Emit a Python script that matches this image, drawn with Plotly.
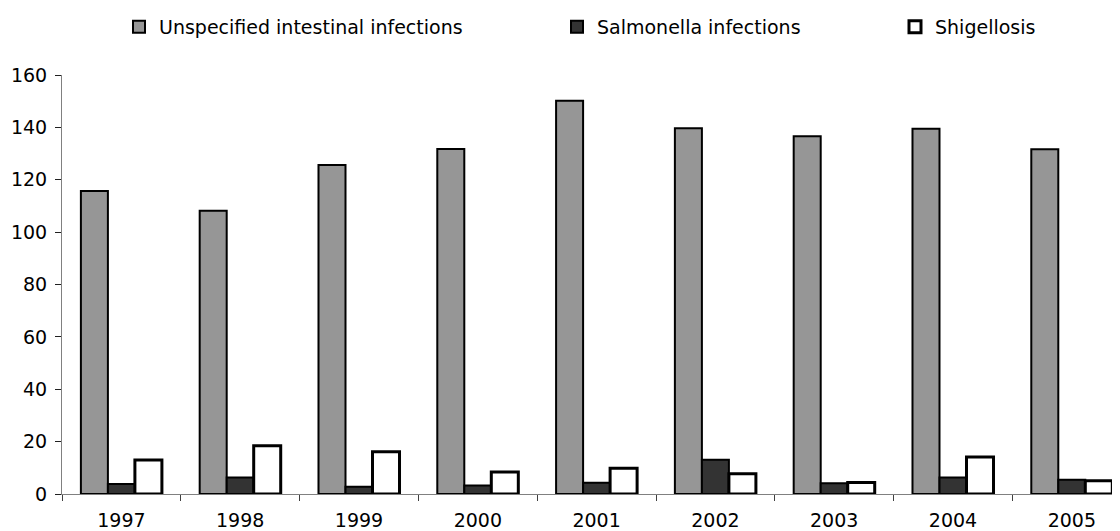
import plotly.graph_objects as go

years = ["1997", "1998", "1999", "2000", "2001", "2002", "2003", "2004", "2005"]
unspecified = [115.7, 108.2, 125.6, 131.7, 150.2, 139.7, 136.6, 139.5, 131.6]
salmonella = [3.8, 6.3, 2.8, 3.2, 4.3, 13.1, 4.1, 6.3, 5.4]
shigellosis = [13.0, 18.4, 16.1, 8.4, 9.8, 7.7, 4.4, 14.1, 5.1]
series_names = ["Unspecified intestinal infections", "Salmonella infections", "Shigellosis"]

FONT = "DejaVu Sans"
FS = 19
OFF = 8                      # page body margin in the browser
PLOT_L, PLOT_R = 62, 1120    # plot area in screenshot pixels
plot_w = PLOT_R - PLOT_L
cat_w = 118.8

fig = go.Figure()
fig.add_trace(go.Bar(x=years, y=unspecified, name=series_names[0],
                     marker=dict(color="#969696", line=dict(color="#000000", width=2)),
                     legend="legend", showlegend=True))
fig.add_trace(go.Bar(x=years, y=salmonella, name=series_names[1],
                     marker=dict(color="#333333", line=dict(color="#000000", width=2)),
                     legend="legend2", showlegend=True))
fig.add_trace(go.Bar(x=years, y=shigellosis, name=series_names[2],
                     marker=dict(color="#ffffff", line=dict(color="#000000", width=3)),
                     legend="legend3", showlegend=True))

def lx(px):
    return (px - PLOT_L) / plot_w

leg_common = dict(orientation="h", yanchor="middle", y=1.115, xanchor="left",
                  font=dict(family=FONT, size=FS, color="#000000"),
                  bgcolor="rgba(0,0,0,0)", borderwidth=0, itemwidth=30)

fig.update_layout(
    width=1120 - OFF, height=531 - OFF,
    margin=dict(l=PLOT_L - OFF, r=0, t=75 - OFF, b=37, autoexpand=False),
    paper_bgcolor="white", plot_bgcolor="white",
    showlegend=True,
    barmode="group", bargap=0.318, bargroupgap=0,
    font=dict(family=FONT, size=FS, color="#000000"),
    legend=dict(x=lx(119), **leg_common),
    legend2=dict(x=lx(557), **leg_common),
    legend3=dict(x=lx(895), **leg_common),
    xaxis=dict(type="category", range=[-0.5, -0.5 + plot_w / cat_w],
               showline=True, linecolor="#808080", linewidth=1,
               ticks="outside", tickson="boundaries", ticklen=6, tickcolor="#404040",
               ticklabelstandoff=9,
               showgrid=False, zeroline=False,
               tickfont=dict(family=FONT, size=FS, color="#000000")),
    yaxis=dict(range=[0, 160], dtick=20, showline=True, linecolor="#808080", linewidth=1,
               ticks="outside", ticklen=6, tickcolor="#202020",
               ticklabelstandoff=4,
               showgrid=False, zeroline=False,
               tickfont=dict(family=FONT, size=FS, color="#000000")),
)

fig.write_html("out.html")
